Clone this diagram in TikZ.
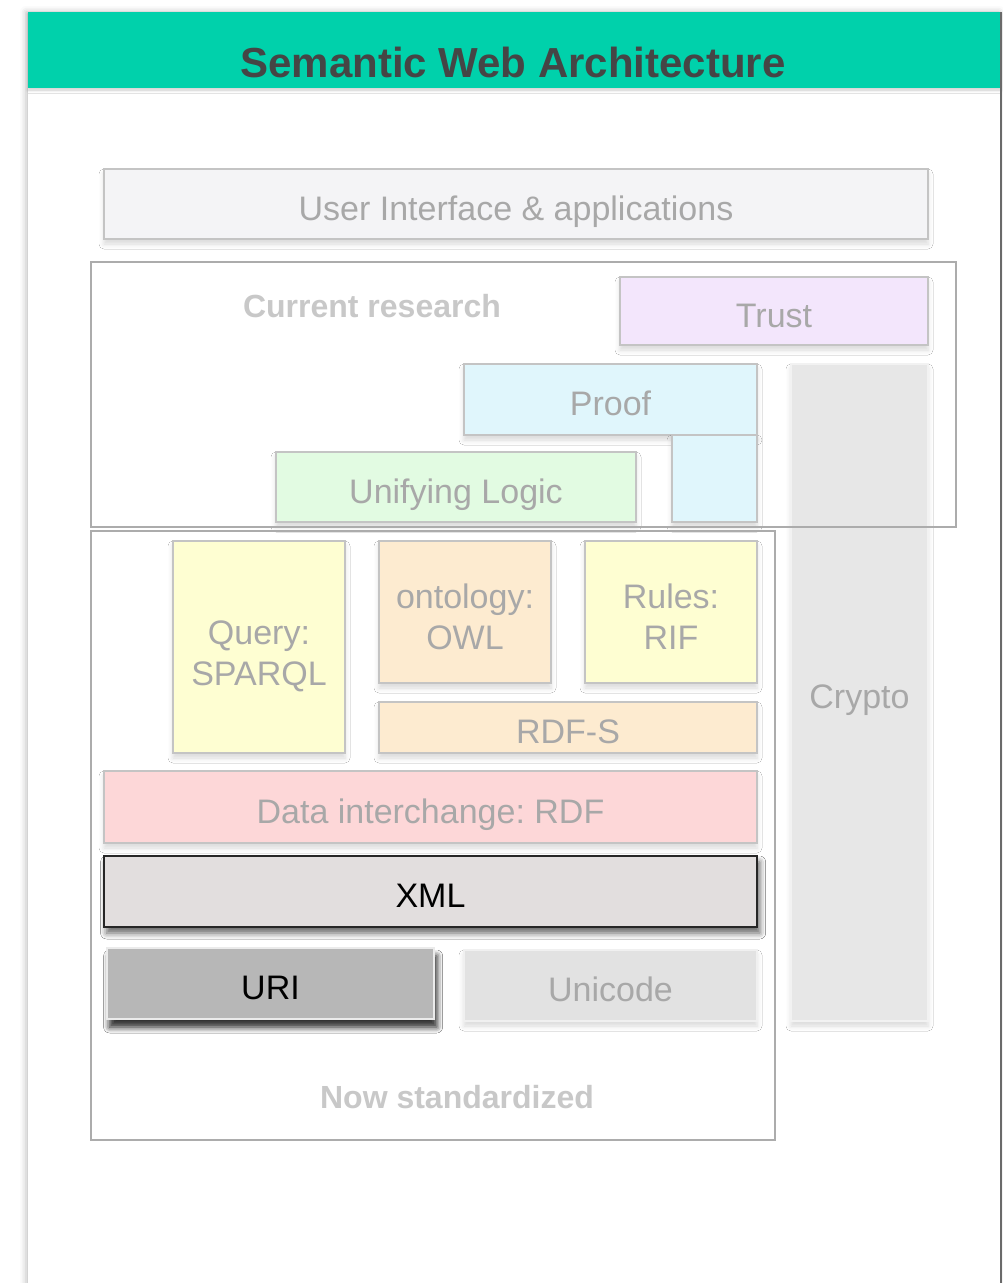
\documentclass[tikz,border=0pt]{standalone}
\usepackage{fontspec}
\setmainfont{Liberation Sans}
\frenchspacing
\usetikzlibrary{shadows,shadows.blur}
\definecolor{headgreen}{RGB}{0,209,171}
\definecolor{titlegray}{RGB}{69,69,69}
\definecolor{boxtext}{RGB}{168,168,168}
\definecolor{boxline}{RGB}{196,196,196}
\definecolor{frameline}{RGB}{172,172,172}
\definecolor{captext}{RGB}{200,200,200}
\definecolor{uifill}{RGB}{244,244,246}
\definecolor{trustfill}{RGB}{243,230,252}
\definecolor{prooffill}{RGB}{224,246,252}
\definecolor{logicfill}{RGB}{226,251,226}
\definecolor{cryptofill}{RGB}{231,231,231}
\definecolor{yellowfill}{RGB}{254,254,210}
\definecolor{peachfill}{RGB}{253,235,208}
\definecolor{pinkfill}{RGB}{253,215,216}
\definecolor{xmlfill}{RGB}{226,222,222}
\definecolor{urifill}{RGB}{183,183,183}
\definecolor{unifill}{RGB}{226,226,226}

\begin{document}
\begin{tikzpicture}[x=1pt,y=-1pt,
  layer/.style={draw=boxline, line width=1.2pt, inner sep=0pt, align=center,
    font=\fontsize{34}{41}\selectfont, text=boxtext, text height=32pt, text depth=0pt,
    blur shadow={shadow xshift=0pt, shadow yshift=-5pt, shadow blur radius=5pt, shadow opacity=15}},
  twolines/.style={text height=75pt, text depth=0pt},
  frame/.style={draw=frameline, line width=1.5pt},
  caption/.style={font=\bfseries\fontsize{32}{38}\selectfont, text=captext}]

\useasboundingbox (0,0) rectangle (1003,1283);

% card and header
\fill [white, blur shadow={shadow xshift=-2pt, shadow yshift=0pt, shadow blur radius=6pt, shadow opacity=25}] (28,12) rectangle (1001,1300);
\fill [headgreen, blur shadow={shadow xshift=0pt, shadow yshift=-2pt, shadow blur radius=3pt, shadow opacity=20}] (28,12) rectangle (1001,88);
\draw [color=titlegray!80, line width=1.5pt] (1001,12) -- (1001,1283);
\node (title) at (513,62) [font=\bfseries\fontsize{42}{48}\selectfont, text=titlegray] {Semantic Web Architecture};

\node (ui) at (516,204) [layer, fill=uifill, minimum width=824, minimum height=70] {User Interface \& applications};

% current research
\node (crypto) at (859.5,692.5) [layer, draw=white!95!black, fill=cryptofill, minimum width=137, minimum height=657] {Crypto};
\node (trust) at (774,311) [layer, fill=trustfill, minimum width=308, minimum height=68] {Trust};
\node (proof) at (610.5,399.5) [layer, fill=prooffill, minimum width=293, minimum height=71] {Proof};
\node (proofleg) at (714.5,478.5) [layer, fill=prooffill, minimum width=85, minimum height=87] {};
\node (logic) at (456,487) [layer, fill=logicfill, minimum width=360, minimum height=70] {Unifying Logic};

% now standardized
\node (query) at (259,647) [layer, twolines, text height=76pt, fill=yellowfill, minimum width=172, minimum height=212] {Query:\\SPARQL};
\node (owl) at (465,612) [layer, twolines, fill=peachfill, minimum width=172, minimum height=142] {ontology:\\OWL};
\node (rif) at (671,612) [layer, twolines, fill=yellowfill, minimum width=172, minimum height=142] {Rules:\\RIF};
\node (rdfs) at (568,727.5) [layer, fill=peachfill, minimum width=378, minimum height=51] {RDF-S};
\node (rdf) at (430.5,807) [layer, fill=pinkfill, minimum width=653, minimum height=72] {Data interchange: RDF};
\node (xml) at (430.5,891.5) [layer, draw=black!85, line width=2.2pt, fill=xmlfill, text=black,
  minimum width=653, minimum height=71, blur shadow={shadow yshift=-6pt, shadow blur radius=6pt, shadow opacity=35}] {XML};
\node (uri) at (270.5,983.5) [layer, draw=white!92!black, fill=urifill, text=black,
  minimum width=327, minimum height=71, blur shadow={shadow yshift=-8pt, shadow blur radius=6pt, shadow opacity=55}] {URI};
\node (unicode) at (610.5,985.5) [layer, draw=white!94!black, fill=unifill, minimum width=293, minimum height=71] {Unicode};

\draw [frame] (91,262) rectangle (956,527);
\draw [frame] (91,531) rectangle (775,1140);
\node (research) at (372,306) [caption] {Current research};
\node (standard) at (457,1097) [caption] {Now standardized};

\end{tikzpicture}
\end{document}
